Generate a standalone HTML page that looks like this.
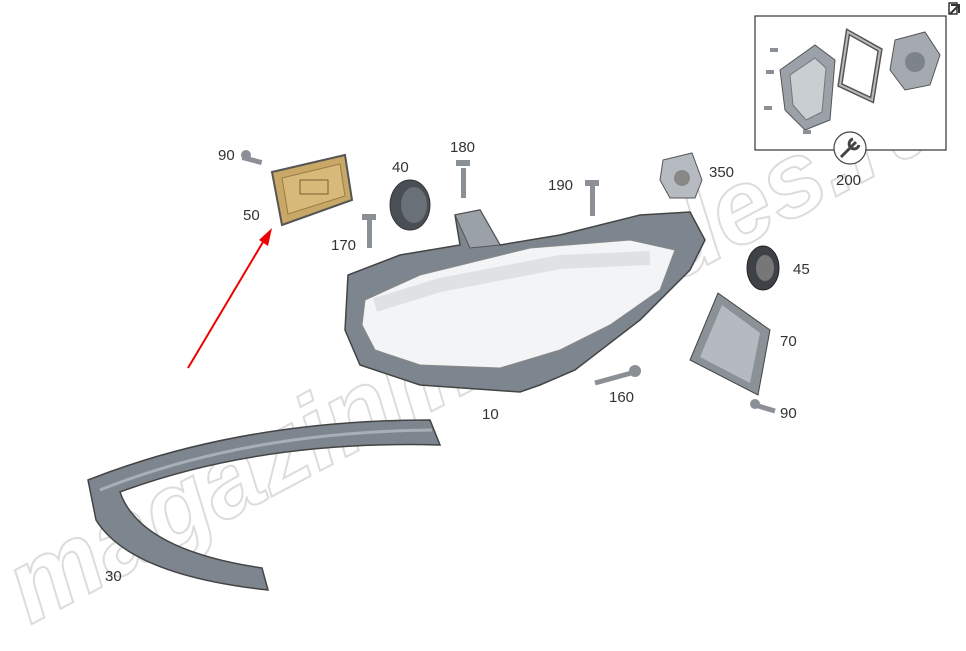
<!DOCTYPE html>
<html><head><meta charset="utf-8"><style>
html,body{margin:0;padding:0;background:#fff;}
svg{display:block;font-family:"Liberation Sans",Arial,sans-serif;}
.l{font-size:15px;fill:#333;}
</style></head><body>
<svg width="966" height="651" viewBox="0 0 966 651" xmlns="http://www.w3.org/2000/svg">
<rect width="966" height="651" fill="#fff"/>
<!-- watermark -->
<text x="30" y="625" transform="rotate(-28 30 625)" font-size="105" font-weight="bold" fill="none" stroke="#dcdcdc" stroke-width="2" font-style="italic">magazinmercedes.ru</text>

<!-- inset -->
<rect x="755" y="16" width="191" height="134" fill="#fff" stroke="#333" stroke-width="1.2"/>
<path d="M780 70 L815 45 L835 60 L830 120 L805 130 L785 110Z" fill="#9aa1a8" stroke="#555"/>
<path d="M790 75 L815 58 L826 68 L822 112 L806 120 L793 105Z" fill="#c9ced3" stroke="#777"/>
<path d="M848 32 L880 50 L872 100 L840 85Z" fill="none" stroke="#555" stroke-width="5"/>
<path d="M848 32 L880 50 L872 100 L840 85Z" fill="none" stroke="#bbb" stroke-width="2"/>
<path d="M895 40 L925 32 L940 55 L930 85 L905 90 L890 70Z" fill="#a4aab0" stroke="#555"/>
<circle cx="915" cy="62" r="10" fill="#7c838a"/>
<g fill="#8a9096"><rect x="770" y="48" width="8" height="4"/><rect x="766" y="70" width="8" height="4"/><rect x="764" y="106" width="8" height="4"/><rect x="803" y="130" width="8" height="4"/></g>
<circle cx="850" cy="148" r="16" fill="#fff" stroke="#444" stroke-width="1.2"/>
<path d="M841 157 L856 142 M853 139 a5 5 0 1 0 6 6" stroke="#444" stroke-width="3" fill="none"/>
<text class="l" x="836" y="185">200</text>
<path d="M951 5 h8 v8 M950 14 l9 -9" stroke="#333" stroke-width="2" fill="none"/>
<rect x="949" y="3" width="8" height="11" fill="none" stroke="#333" stroke-width="1.5"/>

<!-- ballast 50 -->
<path d="M272 172 L345 155 L352 200 L282 225Z" fill="#c9a766" stroke="#555" stroke-width="2"/>
<path d="M282 178 L340 164 L345 196 L288 214Z" fill="#d7b97a" stroke="#9a7d45"/>
<rect x="300" y="180" width="28" height="14" fill="none" stroke="#7a6030"/>
<rect x="243" y="155" width="20" height="5" fill="#8a9096" transform="rotate(15 243 155)"/>
<circle cx="246" cy="155" r="5" fill="#8a9096"/>
<ellipse cx="410" cy="205" rx="20" ry="25" fill="#4a4f55" stroke="#333"/>
<ellipse cx="414" cy="205" rx="13" ry="18" fill="#6a7077"/>
<rect x="461" y="168" width="5" height="30" fill="#8a9096"/><rect x="456" y="160" width="14" height="6" fill="#8a9096"/>
<rect x="367" y="220" width="5" height="28" fill="#8a9096"/><rect x="362" y="214" width="14" height="6" fill="#8a9096"/>
<rect x="590" y="186" width="5" height="30" fill="#8a9096"/><rect x="585" y="180" width="14" height="6" fill="#8a9096"/>

<!-- headlamp 10 -->
<path d="M455 215 L480 210 L500 245 L560 235 L640 215 L690 212 L705 240 L690 270 L640 320 L575 370 L540 385 L520 392 L420 385 L360 365 L345 330 L348 275 L400 255 L460 245Z" fill="#7d858e" stroke="#444" stroke-width="1.5"/>
<path d="M365 300 L420 275 L530 248 L630 240 L675 250 L660 290 L610 325 L560 350 L500 368 L420 365 L375 350 L362 325Z" fill="#f3f4f5" stroke="#888"/>
<path d="M375 305 L440 285 L560 262 L650 258" stroke="#dfe2e5" stroke-width="14" fill="none"/>
<path d="M455 215 L480 210 L500 245 L470 248Z" fill="#9aa1a8" stroke="#555"/>
<path d="M663 160 L692 153 L702 180 L695 198 L670 198 L660 180Z" fill="#b5bbc0" stroke="#555"/>
<circle cx="682" cy="178" r="8" fill="#888"/>
<ellipse cx="763" cy="268" rx="16" ry="22" fill="#3e4247" stroke="#222"/>
<ellipse cx="765" cy="268" rx="9" ry="13" fill="#777"/>
<path d="M718 293 L770 330 L758 395 L690 360Z" fill="#8a9197" stroke="#444"/>
<path d="M722 305 L760 333 L750 383 L700 357Z" fill="#b4babf"/>
<path d="M595 383 L635 372" stroke="#8a9096" stroke-width="5"/><circle cx="635" cy="371" r="6" fill="#8a9096"/>
<path d="M755 405 L775 411" stroke="#8a9096" stroke-width="5"/><circle cx="755" cy="404" r="5" fill="#8a9096"/>

<!-- strip 30 -->
<path d="M88 480 Q240 420 430 420 L440 445 Q260 440 120 492 Q140 550 262 568 L268 590 Q130 575 96 520Z" fill="#7d858e" stroke="#444" stroke-width="1.5"/>
<path d="M100 490 Q245 432 432 430" stroke="#a8afb5" stroke-width="3" fill="none"/>

<line x1="188" y1="368" x2="266" y2="237" stroke="#e00" stroke-width="2"/>
<path d="M272 228 L268 246 L259 240Z" fill="#e00"/>

<text class="l" x="218" y="160">90</text>
<text class="l" x="243" y="220">50</text>
<text class="l" x="392" y="172">40</text>
<text class="l" x="450" y="152">180</text>
<text class="l" x="331" y="250">170</text>
<text class="l" x="548" y="190">190</text>
<text class="l" x="709" y="177">350</text>
<text class="l" x="793" y="274">45</text>
<text class="l" x="780" y="346">70</text>
<text class="l" x="609" y="402">160</text>
<text class="l" x="780" y="418">90</text>
<text class="l" x="482" y="419">10</text>
<text class="l" x="105" y="581">30</text>
</svg>
</body></html>
